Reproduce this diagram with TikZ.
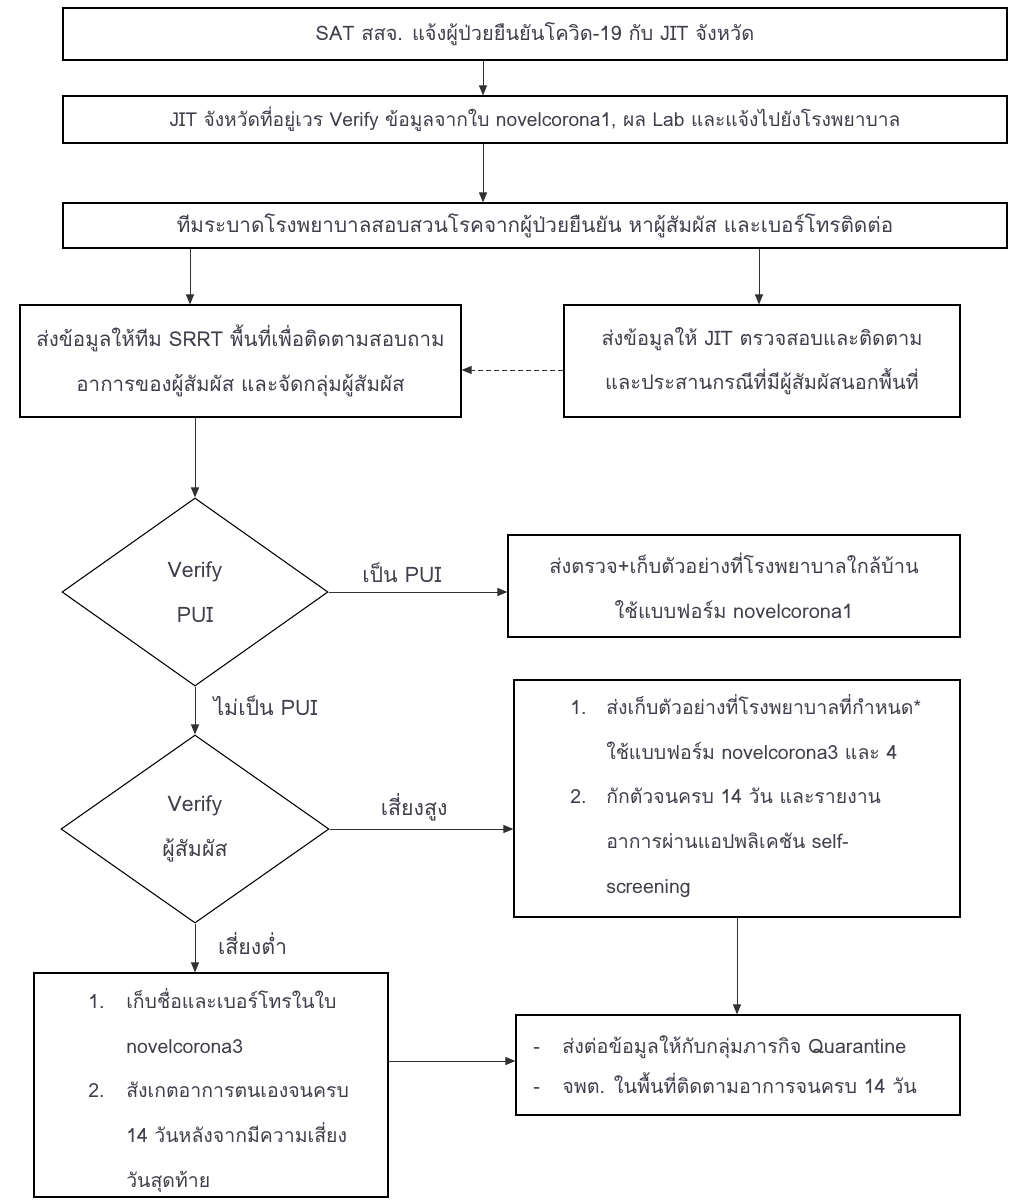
\documentclass[tikz,border=0pt]{standalone}
\usepackage{fontspec}
\setmainfont[Script=Thai]{Loma}
\usetikzlibrary{shapes.geometric,arrows.meta}
\definecolor{txt}{RGB}{64,64,76}
\definecolor{ln}{RGB}{50,50,50}
\newcommand\tf{\fontsize{15}{33.5}\selectfont}
\newcommand\tft{\fontsize{14.6}{33.5}\selectfont}
\newcommand\tfa{\fontsize{15}{18}\selectfont}
\newcommand\tfb{\fontsize{14.4}{17}\selectfont}
\newcommand\tfc{\fontsize{15.5}{18}\selectfont}
\newcommand\tfl{\fontsize{15.4}{33.75}\selectfont}
\newcommand\tfd{\fontsize{16}{34}\selectfont}
\newcommand\tfs{\fontsize{14.8}{30}\selectfont}
\begin{document}
\begin{tikzpicture}[x=0.75pt,y=-0.75pt,
  box/.style={draw=black, line width=0.9pt, inner sep=0pt, font=\tf, text=txt, align=center},
  dec/.style={diamond, draw=black, line width=0.8pt, inner sep=0pt, font=\tfd, text=txt, align=center},
  arr/.style={draw=ln, line width=0.75pt, -{Triangle[length=7.5pt,width=6pt]}},
  dsh/.style={dash pattern=on 3.75pt off 2.25pt},
  lab/.style={font=\tft, text=txt, inner sep=0pt},
  elab/.style={font=\fontsize{16}{18}\selectfont, text=txt, inner sep=0pt}]
\useasboundingbox (0,0) rectangle (1010,1201);
\fill[white] (0,0) rectangle (1010,1201);

\node[box, font=\tfa, minimum width=708pt, minimum height=39pt] (b1) at (535,34) {SAT สสจ. แจ้งผู้ป่วยยืนยันโควิด-19 กับ JIT จังหวัด};
\node[box, font=\tfb, minimum width=708pt, minimum height=35.25pt] (b2) at (535,119.5) {JIT จังหวัดที่อยู่เวร Verify ข้อมูลจากใบ novelcorona1, ผล Lab และแจ้งไปยังโรงพยาบาล};
\node[box, font=\tfc, minimum width=708pt, minimum height=33.75pt] (b3) at (535,225.5) {ทีมระบาดโรงพยาบาลสอบสวนโรคจากผู้ป่วยยืนยัน หาผู้สัมผัส และเบอร์โทรติดต่อ};
\node[box, font=\tfl, minimum width=330.75pt, minimum height=84pt] (b4) at (240.5,361) {ส่งข้อมูลให้ทีม SRRT พื้นที่เพื่อติดตามสอบถาม\\อาการของผู้สัมผัส และจัดกลุ่มผู้สัมผัส};
\node[box, minimum width=297pt, minimum height=84pt] (b5) at (762,361) {ส่งข้อมูลให้ JIT ตรวจสอบและติดตาม\\และประสานกรณีที่มีผู้สัมผัสนอกพื้นที่};
\node[dec, minimum width=199.5pt, minimum height=141pt] (d1) at (195,592) {Verify\\PUI};
\node[box, minimum width=339pt, minimum height=76.5pt] (b6) at (734,586) {ส่งตรวจ+เก็บตัวอย่างที่โรงพยาบาลใกล้บ้าน\\ใช้แบบฟอร์ม novelcorona1};
\node[dec, minimum width=201pt, minimum height=141pt] (d2) at (195,829) {Verify\\ผู้สัมผัส};
\node[box, minimum width=334.5pt, minimum height=177.75pt] (b7) at (737,798.5) {};
\node[box, minimum width=265.5pt, minimum height=168pt] (b8) at (211,1085) {};
\node[box, minimum width=333pt, minimum height=75pt] (b9) at (738,1065) {};

\node[lab, anchor=west, align=left] (t7) at (570,795) {\begin{tabular}{@{}p{27pt}@{}l@{}}1.&ส่งเก็บตัวอย่างที่โรงพยาบาลที่กำหนด*\\ &ใช้แบบฟอร์ม novelcorona3 และ 4\\2.&กักตัวจนครบ 14 วัน และรายงาน\\ &อาการผ่านแอปพลิเคชัน self-\\ &screening\end{tabular}};
\node[lab, anchor=west, align=left] (t8) at (88,1089) {\begin{tabular}{@{}p{28.5pt}@{}l@{}}1.&เก็บชื่อและเบอร์โทรในใบ\\ &novelcorona3\\2.&สังเกตอาการตนเองจนครบ\\ &14 วันหลังจากมีความเสี่ยง\\ &วันสุดท้าย\end{tabular}};
\node[lab, anchor=west, align=left, font=\tfs] (t9) at (533,1065) {\begin{tabular}{@{}p{21.75pt}@{}l@{}}-&ส่งต่อข้อมูลให้กับกลุ่มภารกิจ Quarantine\\-&จพต. ในพื้นที่ติดตามอาการจนครบ 14 วัน\end{tabular}};

\draw[arr] (483,0 |- b1.south) -- (483,0 |- b2.north);
\draw[arr] (483,0 |- b2.south) -- (483,0 |- b3.north);
\draw[arr] (190,0 |- b3.south) -- (190,0 |- b4.north);
\draw[arr] (759,0 |- b3.south) -- (759,0 |- b5.north);
\draw[arr, dsh] (b5.west |- 0,370) -- (b4.east |- 0,370);
\draw[arr] (d1.north |- b4.south) -- (d1.north);
\draw[arr] (d1.east) -- node[elab, pos=0.41, yshift=14.5pt] (l1) {เป็น PUI} (d1.east -| b6.west);
\draw[arr] (d1.south) -- node[elab, anchor=west, pos=0.4, xshift=13.5pt] (l2) {ไม่เป็น PUI} (d2.north);
\draw[arr] (d2.east) -- node[elab, pos=0.46, yshift=16pt] (l3) {เสี่ยงสูง} (d2.east -| b7.west);
\draw[arr] (d2.south) -- node[elab, anchor=west, pos=0.4, xshift=17pt] (l4) {เสี่ยงต่ำ} (d2.south |- b8.north);
\draw[arr] (b7.south) -- (b7.south |- b9.north);
\draw[arr] (b8.east |- 0,1061) -- (b9.west |- 0,1061);
\end{tikzpicture}
\end{document}
